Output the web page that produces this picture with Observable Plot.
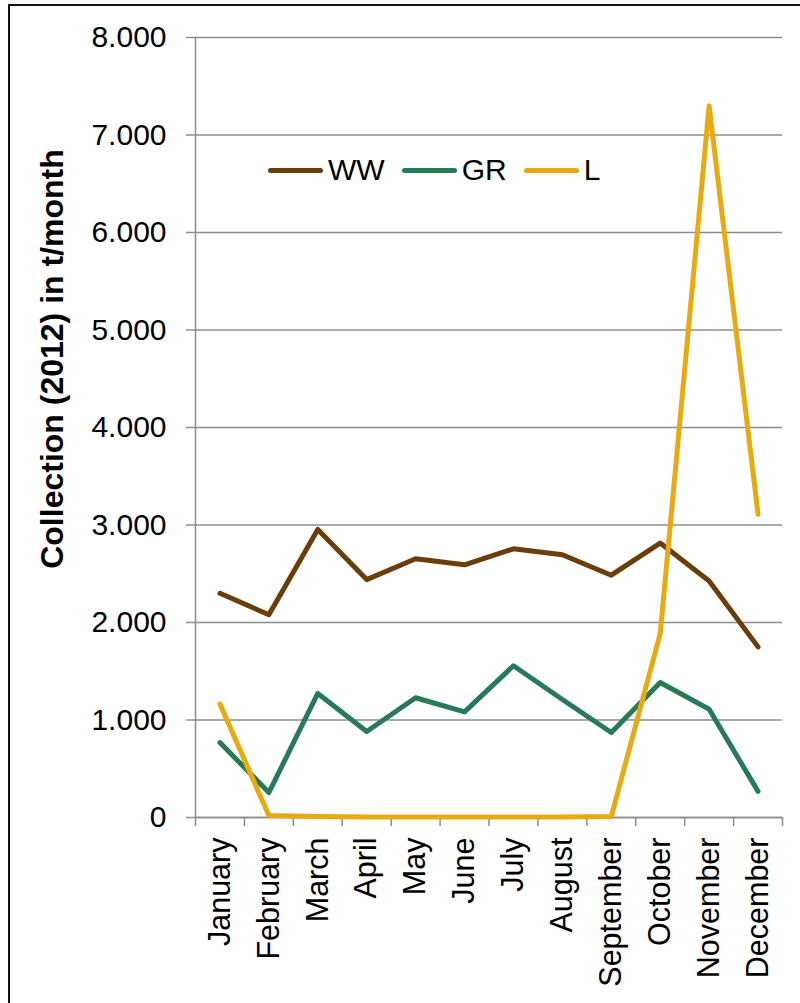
<!DOCTYPE html>
<html>
<head>
<meta charset="utf-8">
<script src="https://cdn.jsdelivr.net/npm/d3@7"></script>
<script src="https://cdn.jsdelivr.net/npm/@observablehq/plot@0.6"></script>
<style>
  html, body { margin: 0; padding: 0; background: #fff; }
  #wrap { position: relative; width: 800px; height: 1003px; overflow: hidden; font-family: "Liberation Sans", Arial, sans-serif; }
  #frame { position: absolute; left: 8px; top: 4px; width: 800px; height: 1010px; border-left: 2px solid #111; border-top: 2px solid #111; pointer-events: none; }
  #ytitle { position: absolute; left: 52px; top: 359px; transform: translate(-50%, -50%) rotate(-90deg); white-space: nowrap; font-weight: bold; font-size: 32px; color: #000; }
  #legend { position: absolute; left: 268px; top: 170px; transform: translateY(-50%); display: flex; align-items: center; font-size: 30px; color: #000; }
  .sw { width: 55px; height: 5px; border-radius: 3px; margin-right: 5px; }
  .lab { margin-right: 17px; }
</style>
</head>
<body>
<div id="wrap">
  <div id="chart"></div>
  <div id="ytitle">Collection (2012) in t/month</div>
  <div id="legend"></div>
  <div id="frame"></div>
</div>
<script>
const months = ["January","February","March","April","May","June","July","August","September","October","November","December"];
const seriesNames = ["WW","GR","L"];
const seriesColors = ["#6B3D0A","#277A56","#E8AA10"];
const WW = [2300, 2080, 2955, 2440, 2654, 2592, 2756, 2695, 2485, 2815, 2425, 1750];
const GR = [768, 256, 1272, 882, 1228, 1084, 1556, 1210, 872, 1385, 1110, 268];
const L  = [1163, 20, 10, 5, 5, 5, 5, 5, 10, 1885, 7300, 3110];
const yTicks = [0, 1000, 2000, 3000, 4000, 5000, 6000, 7000, 8000];

const values = {WW, GR, L};
const rows = [];
for (const s of seriesNames) values[s].forEach((v, i) => rows.push({series: s, i, value: v}));

const xDomain = [-0.5, months.length - 0.5];
const gray = "#8c8c8c";
const fmt = v => v === 0 ? "0" : d3.format(",")(v).replace(/,/g, ".");

const chart = Plot.plot({
  width: 800,
  height: 1003,
  marginLeft: 195,
  marginRight: 18,
  marginTop: 37,
  marginBottom: 186,
  style: {fontFamily: "'Liberation Sans', Arial, sans-serif", color: "#000", background: "#fff"},
  x: {type: "linear", domain: xDomain},
  y: {domain: [0, 8000]},
  color: {domain: seriesNames, range: seriesColors},
  marks: [
    Plot.gridY(yTicks, {stroke: gray, strokeOpacity: 1, strokeWidth: 1.5}),
    Plot.axisY({ticks: yTicks, tickFormat: fmt, tickSize: 9, tickPadding: 20, fontSize: 30, stroke: gray, strokeOpacity: 1, strokeWidth: 1.5, label: null, fill: "#000"}),
    Plot.ruleX([xDomain[0]], {stroke: gray, strokeWidth: 1.5}),
    Plot.ruleY([0], {stroke: gray, strokeWidth: 1.5}),
    Plot.axisX({ticks: d3.range(xDomain[0], xDomain[1] + 0.01, 1), tickFormat: () => "", tickSize: 9, stroke: gray, strokeOpacity: 1, strokeWidth: 1.5, label: null}),
    Plot.axisX({ticks: d3.range(months.length), tickFormat: i => months[i], tickSize: 0, tickPadding: 20, tickRotate: -90, textAnchor: "end", fontSize: 30.5, label: null, fill: "#000"}),
    Plot.line(rows, {x: "i", y: "value", z: "series", stroke: "series", strokeWidth: 5, strokeLinecap: "round", strokeLinejoin: "round"})
  ]
});
document.getElementById("chart").appendChild(chart);

const legend = document.getElementById("legend");
seriesNames.forEach((s, k) => {
  const sw = document.createElement("span");
  sw.className = "sw";
  sw.style.background = seriesColors[k];
  const lab = document.createElement("span");
  lab.className = "lab";
  lab.textContent = s;
  legend.appendChild(sw);
  legend.appendChild(lab);
});
</script>
</body>
</html>
